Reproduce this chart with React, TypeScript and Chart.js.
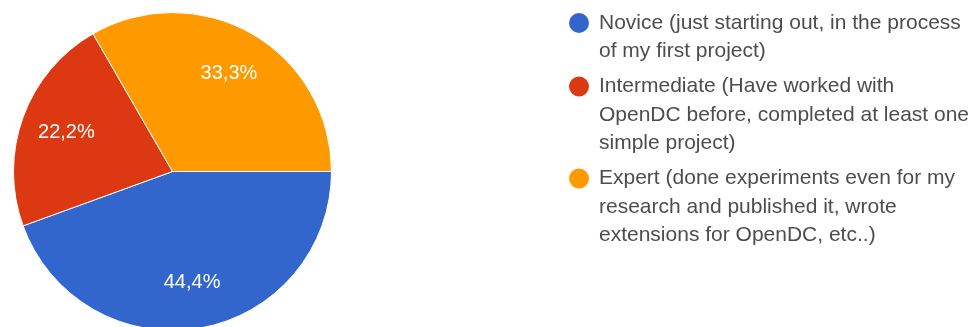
import React, { useEffect, useRef } from "react";
import { Chart, registerables } from "chart.js";

Chart.register(...registerables);

const categories = ["Novice", "Intermediate", "Expert"];
const shares = [44.4, 22.2, 33.3];
const sliceColors = ["#3366cc", "#dc3912", "#ff9900"];
const legendLines = [
  ["Novice (just starting out, in the process", "of my first project)"],
  ["Intermediate (Have worked with", "OpenDC before, completed at least one", "simple project)"],
  ["Expert (done experiments even for my", "research and published it, wrote", "extensions for OpenDC, etc..)"],
];

const FONT = "Arial, 'Liberation Sans', sans-serif";

const sliceLabels = {
  id: "sliceLabels",
  afterDatasetsDraw(chart: any) {
    const ctx = chart.ctx;
    const meta = chart.getDatasetMeta(0);
    ctx.save();
    ctx.fillStyle = "#ffffff";
    ctx.font = `20px ${FONT}`;
    ctx.textAlign = "center";
    ctx.textBaseline = "middle";
    meta.data.forEach((arc: any, i: number) => {
      const p = arc.getProps(["x", "y", "startAngle", "endAngle", "outerRadius"], true);
      const mid = (p.startAngle + p.endAngle) / 2;
      const d = p.outerRadius * 0.71;
      const v = chart.data.datasets[0].data[i] as number;
      ctx.fillText(v.toFixed(1).replace(".", ",") + "%", p.x + Math.cos(mid) * d, p.y + Math.sin(mid) * d);
    });
    ctx.restore();
  },
};

const sideLegend = {
  id: "sideLegend",
  afterDraw(chart: any) {
    const ctx = chart.ctx;
    const colors = chart.data.datasets[0].backgroundColor as string[];
    const markerX = 579;
    const textX = 599;
    const lineH = 28.5;
    const gap = 35;
    let y = 23;
    ctx.save();
    ctx.font = `21px ${FONT}`;
    ctx.textBaseline = "middle";
    ctx.textAlign = "left";
    legendLines.forEach((lines, i) => {
      ctx.fillStyle = colors[i];
      ctx.beginPath();
      ctx.arc(markerX, y, 10, 0, Math.PI * 2);
      ctx.fill();
      ctx.fillStyle = "#4d4d4d";
      lines.forEach((ln, j) => {
        ctx.fillText(ln, textX, y + j * lineH);
      });
      y += (lines.length - 1) * lineH + gap;
    });
    ctx.restore();
  },
};

export default function App() {
  const ref = useRef<HTMLCanvasElement>(null);
  useEffect(() => {
    if (!ref.current) return;
    const chart = new Chart(ref.current, {
      type: "pie",
      data: {
        labels: categories,
        datasets: [
          {
            data: shares,
            backgroundColor: sliceColors,
            borderColor: "#ffffff",
            borderWidth: 1,
          },
        ],
      },
      options: {
        animation: false,
        responsive: false,
        rotation: 90,
        layout: { padding: { left: 13, top: 12, right: 646, bottom: 14 } },
        plugins: {
          legend: { display: false },
          tooltip: { enabled: false },
        },
      },
      plugins: [sliceLabels, sideLegend],
    });
    return () => chart.destroy();
  }, []);
  return (
    <div style={{ position: "absolute", left: 0, top: 0, width: 978, height: 327, overflow: "hidden", background: "#fff" }}>
      <canvas ref={ref} width={978} height={345} style={{ display: "block", width: 978, height: 345 }} />
    </div>
  );
}
